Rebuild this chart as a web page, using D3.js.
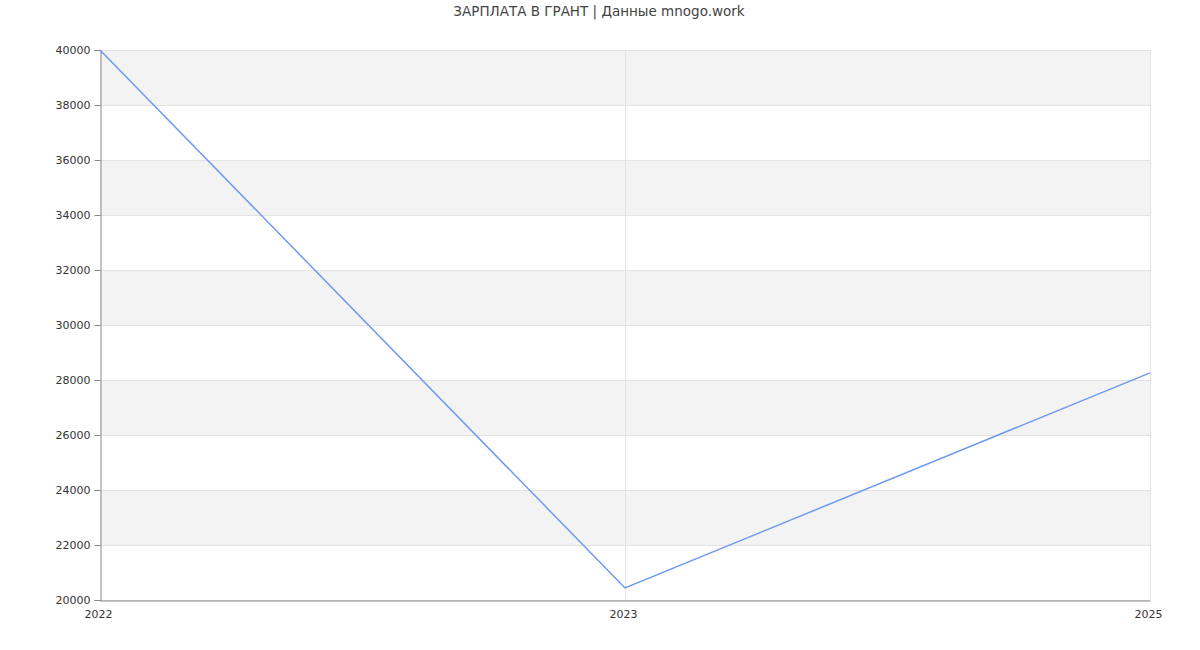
<!DOCTYPE html>
<html><head><meta charset="utf-8">
<script src="https://cdn.jsdelivr.net/npm/d3@7"></script>
<style>body{margin:0;background:#fff;font-family:"DejaVu Sans",sans-serif}</style>
</head><body>
<svg id="c" width="1200" height="650"></svg>
<script>
const title = "ЗАРПЛАТА В ГРАНТ | Данные mnogo.work";
const years = ["2022", "2023", "2025"];
const salaries = [40000, 20440, 28260];
const yTicks = [20000, 22000, 24000, 26000, 28000, 30000, 32000, 34000, 36000, 38000, 40000];

const svg = d3.select("#c");
const m = {l:100, r:50, t:50, b:50};
const W = 1200, H = 650;
const x = d3.scalePoint().domain(years).range([m.l, W - m.r]);
const y = d3.scaleLinear().domain([20000, 40000]).range([H - m.b, m.t]);

// bands
const bands = [];
for (let i = 0; i < yTicks.length - 1; i++) if ((yTicks.length - 2 - i) % 2 === 0) bands.push([yTicks[i], yTicks[i+1]]);
svg.append("g").selectAll("rect").data(bands).join("rect")
  .attr("x", m.l).attr("width", W - m.r - m.l)
  .attr("y", d => y(d[1])).attr("height", d => y(d[0]) - y(d[1]))
  .attr("fill", "#f3f3f3");

// horizontal grid
svg.append("g").selectAll("line").data(yTicks).join("line")
  .attr("x1", m.l).attr("x2", W - m.r)
  .attr("y1", d => y(d) + 0.5).attr("y2", d => y(d) + 0.5)
  .attr("stroke", "#e3e3e3");
// vertical grid
svg.append("g").selectAll("line").data(years.slice(1)).join("line")
  .attr("x1", d => Math.round(x(d)) + 0.5).attr("x2", d => Math.round(x(d)) + 0.5)
  .attr("y1", m.t).attr("y2", H - m.b)
  .attr("stroke", "#e3e3e3");

// y axis
const ya = svg.append("g").attr("transform", `translate(${m.l + 0.5},0)`)
  .call(d3.axisLeft(y).tickValues(yTicks).tickFormat(d3.format("d")).tickSize(6).tickPadding(4));
ya.select(".domain").attr("stroke", "#888");
ya.selectAll(".tick line").attr("stroke", "#888");
ya.selectAll("text").attr("fill", "#333").style("font-size", "11px").style("font-family", "DejaVu Sans");

// x axis
const xa = svg.append("g").attr("transform", `translate(0,${H - m.b + 0.5})`)
  .call(d3.axisBottom(x).tickSize(0).tickPadding(10));
xa.select(".domain").attr("stroke", "#888");
xa.selectAll("text").attr("fill", "#333").attr("dx", -2).style("font-size", "11px").style("font-family", "DejaVu Sans");

// line
const line = d3.line().x((d, i) => x(years[i])).y(d => y(d));
svg.append("path").datum(salaries).attr("d", line)
  .attr("fill", "none").attr("stroke", "#6d9af0").attr("stroke-width", 1.5);

// title
svg.append("text").attr("x", 599).attr("y", 16).attr("text-anchor", "middle")
  .attr("fill", "#444").style("font-size", "13.5px").style("font-family", "DejaVu Sans").text(title);
</script>
</body></html>
